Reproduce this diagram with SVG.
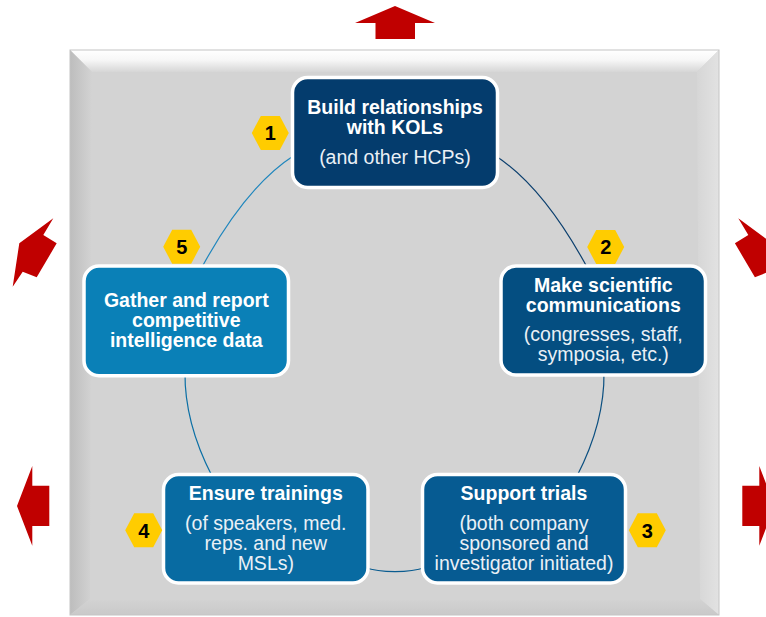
<svg xmlns="http://www.w3.org/2000/svg" width="766" height="617" viewBox="0 0 766 617">
<defs>
<linearGradient id="gTop" x1="0" y1="0" x2="0" y2="1"><stop offset="0" stop-color="#ffffff"/><stop offset="0.45" stop-color="#f7f7f7"/><stop offset="1" stop-color="#d6d6d6"/></linearGradient>
<linearGradient id="gLeft" x1="0" y1="0" x2="1" y2="0"><stop offset="0" stop-color="#bdbdbd"/><stop offset="1" stop-color="#d3d3d3"/></linearGradient>
<linearGradient id="gRight" x1="0" y1="0" x2="1" y2="0"><stop offset="0" stop-color="#d6d6d6"/><stop offset="1" stop-color="#e2e2e2"/></linearGradient>
<linearGradient id="gBot" x1="0" y1="0" x2="0" y2="1"><stop offset="0" stop-color="#d3d3d3"/><stop offset="1" stop-color="#c9c9c9"/></linearGradient>
<style>
.arrow{fill:#C00000}
.box{stroke:#ffffff;stroke-width:3.5}
.b{font-family:"Liberation Sans",Arial,sans-serif;font-weight:bold;font-size:19.5px;fill:#ffffff;text-anchor:middle}
.r{font-family:"Liberation Sans",Arial,sans-serif;font-size:19.5px;fill:#eaf0f6;text-anchor:middle}
.hex{fill:#FFCC00}
.num{font-family:"Liberation Sans",Arial,sans-serif;font-weight:bold;font-size:20px;fill:#000000;text-anchor:middle}
.conn{fill:none;stroke-width:1.2}
</style>
</defs>
<rect width="766" height="617" fill="#ffffff"/>
<g id="panel">
<rect x="70" y="50" width="649" height="565" fill="#d3d3d3"/>
<polygon points="70,50 719,50 697,72 92,72" fill="url(#gTop)"/>
<polygon points="70,50 92,72 90,599 70,615" fill="url(#gLeft)"/>
<polygon points="719,50 719,615 700,599 697,72" fill="url(#gRight)"/>
<polygon points="70,615 90,599 700,599 719,615" fill="url(#gBot)"/>
<rect x="70" y="50" width="649" height="565" fill="none" stroke="#c4c4c4" stroke-width="1"/>
</g>
<g id="arrows">
<polygon class="arrow" points="395,6 435,23 415,23 415,39 375.5,39 375.5,23 355,23"/>
<polygon class="arrow" points="53.3,218.3 43.3,235 56.7,243.3 36.7,277.3 22.7,271.7 12.7,286.7 19.3,243.3"/>
<polygon class="arrow" points="738.3,218.3 748.3,235 734.9,243.3 754.9,277.3 768.9,271.7 778.9,286.7 772.3,243.3"/>
<polygon class="arrow" points="17,506 32.3,466 32.3,485.7 49.3,485.7 49.3,526 32.3,526 32.3,545.7"/>
<polygon class="arrow" points="774.6,506 759.3,466 759.3,485.7 742.3,485.7 742.3,526 759.3,526 759.3,545.7"/>
</g>
<g id="connectors">
<path class="conn" stroke="#1f86bd" d="M201.5,268 Q245.9,186.3 294,155.5"/>
<path class="conn" stroke="#0b3f6e" d="M495,155.5 Q543.1,186.3 587.5,268"/>
<path class="conn" stroke="#0b4f80" d="M604,372 C604.5,410 593,445 577,476"/>
<path class="conn" stroke="#0a5c90" d="M425,567.5 C410,573 380,573 365,567.5"/>
<path class="conn" stroke="#0a6fa5" d="M185,372 C184.5,410 196,445 212,476"/>
</g>
<g id="node1">
<rect class="box" x="292.5" y="77.5" width="205" height="110" rx="15" fill="#043c6d"/>
<text class="b" x="395" y="113.5">Build relationships</text>
<text class="b" x="395" y="134">with KOLs</text>
<text class="r" x="395" y="164">(and other HCPs)</text>
</g>
<g id="node2">
<rect class="box" x="501" y="266" width="204.5" height="109" rx="15" fill="#044e81"/>
<text class="b" x="603.3" y="291.7">Make scientific</text>
<text class="b" x="603.3" y="312.3">communications</text>
<text class="r" x="603.3" y="340.7">(congresses, staff,</text>
<text class="r" x="603.3" y="360.7">symposia, etc.)</text>
</g>
<g id="node3">
<rect class="box" x="422.5" y="474.5" width="203" height="108.5" rx="15" fill="#065b92"/>
<text class="b" x="524" y="500">Support trials</text>
<text class="r" x="524" y="530">(both company</text>
<text class="r" x="524" y="550">sponsored and</text>
<text class="r" x="524" y="570">investigator initiated)</text>
</g>
<g id="node4">
<rect class="box" x="163.5" y="474.5" width="204.5" height="108.5" rx="15" fill="#086ba2"/>
<text class="b" x="265.8" y="500">Ensure trainings</text>
<text class="r" x="265.8" y="530">(of speakers, med.</text>
<text class="r" x="265.8" y="550">reps. and new</text>
<text class="r" x="265.8" y="570">MSLs)</text>
</g>
<g id="node5">
<rect class="box" x="84" y="266" width="204.5" height="109.7" rx="15" fill="#0a80b7"/>
<text class="b" x="186.3" y="307">Gather and report</text>
<text class="b" x="186.3" y="327">competitive</text>
<text class="b" x="186.3" y="347">intelligence data</text>
</g>
<g id="badge1"><polygon class="hex" points="251.8,133 260.8,116 279.8,116 288.8,133 279.8,150 260.8,150"/><text class="num" x="270.3" y="140.2">1</text></g>
<g id="badge2"><polygon class="hex" points="587.2,247 596.2,230 615.2,230 624.2,247 615.2,264 596.2,264"/><text class="num" x="605.7" y="254.2">2</text></g>
<g id="badge3"><polygon class="hex" points="628.8,530.3 637.8,513.3 656.8,513.3 665.8,530.3 656.8,547.3 637.8,547.3"/><text class="num" x="647.3" y="537.5">3</text></g>
<g id="badge4"><polygon class="hex" points="125.2,530.3 134.2,513.3 153.2,513.3 162.2,530.3 153.2,547.3 134.2,547.3"/><text class="num" x="143.7" y="537.5">4</text></g>
<g id="badge5"><polygon class="hex" points="163.2,246.7 172.2,229.7 191.2,229.7 200.2,246.7 191.2,263.7 172.2,263.7"/><text class="num" x="181.7" y="253.9">5</text></g>
</svg>
